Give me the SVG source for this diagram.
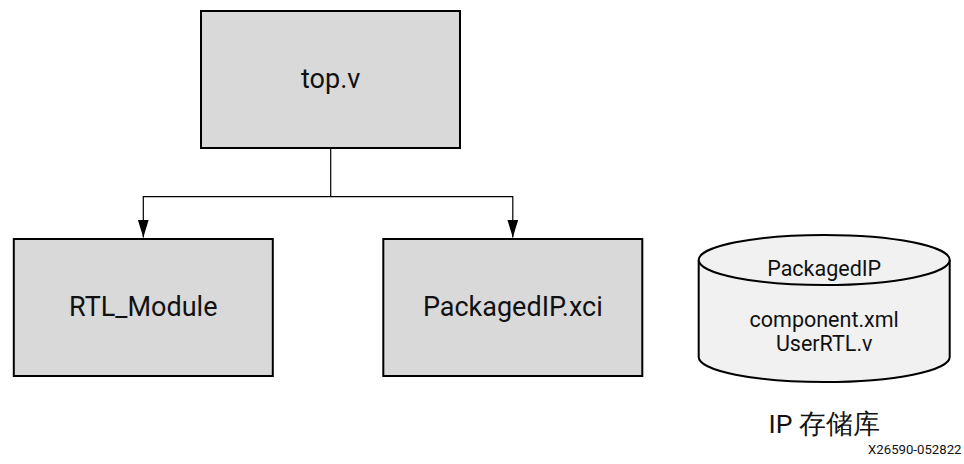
<svg xmlns="http://www.w3.org/2000/svg" width="964" height="464" viewBox="0 0 964 464">
  <style>
    .box { fill: #d9d9d9; stroke: #000; stroke-width: 2; }
    .db { fill: #f1f1f1; stroke: #000; stroke-width: 2; }
    .wire { fill: none; stroke: #000; stroke-width: 1.2; }
    .lbl { font-family: Roboto, "Liberation Sans", sans-serif; fill: #111; text-anchor: middle; }
    .big { font-size: 27px; }
    .mid { font-size: 21.5px; }
  </style>
  <defs>
    <!-- solid triangular head, 18 long and 11 wide -->
    <marker id="arrow" markerUnits="userSpaceOnUse" markerWidth="18" markerHeight="11" refX="18" refY="5.5" orient="auto" viewBox="0 0 18 11">
      <path d="M0,0 L18,5.5 L0,11 Z" fill="#000"/>
    </marker>
  </defs>

  <!-- connectors: top.v fans out to both children -->
  <g id="connectors">
    <path class="wire" d="M330.7,149 V196.7"/>
    <path class="wire" d="M330.7,196.7 H143.3 V237.5" marker-end="url(#arrow)"/>
    <path class="wire" d="M330.7,196.7 H512.8 V237.5" marker-end="url(#arrow)"/>
  </g>

  <g id="top_v">
    <rect class="box" x="201" y="11" width="259" height="137"/>
    <text class="lbl big" x="330.7" y="88">top.v</text>
  </g>

  <g id="rtl_module">
    <rect class="box" x="13.8" y="239" width="259" height="137"/>
    <text class="lbl big" x="143.3" y="316">RTL_Module</text>
  </g>

  <g id="packagedip_xci">
    <rect class="box" x="383.3" y="239" width="259" height="137"/>
    <text class="lbl big" x="512.8" y="316">PackagedIP.xci</text>
  </g>

  <!-- IP repository drawn as a storage cylinder -->
  <g id="ip_repository">
    <path class="db" d="M698.7,260 V357 A125.5,25 0 0 0 949.7,357 V260 A125.5,25 0 0 0 698.7,260 Z"/>
    <path class="db" d="M698.7,260 A125.5,25 0 0 0 949.7,260" fill="none"/>
    <text class="lbl mid" x="824.2" y="275.5">PackagedIP</text>
    <text class="lbl mid" x="824.2" y="326.5">component.xml</text>
    <text class="lbl mid" x="824.2" y="350.5">UserRTL.v</text>
    <text class="lbl" x="824.3" y="432.5" font-size="26.5px" font-family="Roboto, 'Noto Sans CJK SC', sans-serif">IP 存储库</text>
  </g>

  <text class="lbl" x="961.5" y="454" font-size="13.2px" style="text-anchor:end">X26590-052822</text>
</svg>
